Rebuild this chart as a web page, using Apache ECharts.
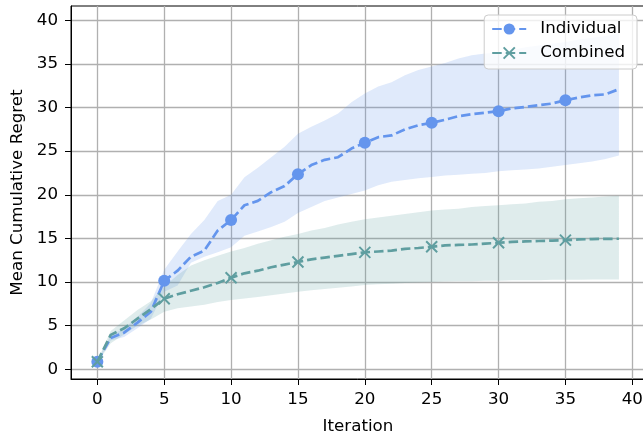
<!DOCTYPE html>
<html>
<head>
<meta charset="utf-8">
<script src="https://cdn.jsdelivr.net/npm/echarts@6/dist/echarts.min.js"></script>
<style>
  html, body { margin: 0; padding: 0; background: #ffffff; }
  #chart { width: 643px; height: 435px; }
</style>
</head>
<body>
<div id="chart"></div>
<script>
// Iterations on the x axis
const iterations = [0, 1, 2, 3, 4, 5, 6, 7, 8, 9, 10, 11, 12, 13, 14, 15, 16, 17, 18, 19,
  20, 21, 22, 23, 24, 25, 26, 27, 28, 29, 30, 31, 32, 33, 34, 35, 36, 37, 38, 39];

// Individual: mean cumulative regret and its spread band
const individualMean = [0.87, 3.6, 4.2, 5.35, 6.6, 10.15, 11.3, 12.9, 13.6, 15.9,
  17.1, 18.8, 19.3, 20.3, 21.0, 22.36, 23.4, 24.0, 24.3, 25.3,
  25.95, 26.6, 26.8, 27.5, 27.97, 28.24, 28.6, 29.0, 29.23, 29.4,
  29.58, 29.9, 30.07, 30.26, 30.45, 30.84, 31.15, 31.4, 31.5, 32.1];
const individualUpper = [1.0, 3.9, 4.7, 6.0, 7.6, 11.4, 13.5, 15.5, 17.1, 19.3,
  20.0, 22.0, 23.1, 24.3, 25.5, 27.0, 27.8, 28.5, 29.3, 30.6,
  31.6, 32.4, 32.9, 33.7, 34.3, 34.7, 35.1, 35.6, 36.0, 36.2,
  36.3, 36.6, 36.9, 37.1, 37.3, 37.5, 37.8, 38.0, 38.2, 38.5];
const individualLower = [0.75, 3.3, 3.7, 4.7, 5.8, 8.9, 9.6, 12.2, 12.9, 13.4,
  14.0, 15.3, 15.8, 16.3, 16.9, 17.9, 18.6, 19.3, 19.7, 20.1,
  20.5, 21.1, 21.5, 21.7, 21.9, 22.05, 22.2, 22.3, 22.4, 22.5,
  22.7, 22.8, 22.9, 23.0, 23.2, 23.4, 23.6, 23.8, 24.1, 24.5];

// Combined: mean cumulative regret and its spread band
const combinedMean = [0.87, 3.95, 4.7, 5.8, 6.9, 8.08, 8.6, 9.0, 9.4, 9.9,
  10.5, 11.0, 11.3, 11.7, 12.0, 12.3, 12.6, 12.8, 13.0, 13.2,
  13.4, 13.5, 13.6, 13.8, 13.9, 14.04, 14.2, 14.25, 14.3, 14.4,
  14.5, 14.6, 14.65, 14.7, 14.75, 14.8, 14.88, 14.92, 14.95, 14.96];
const combinedUpper = [1.0, 4.4, 5.6, 6.8, 7.8, 9.5, 10.8, 11.9, 12.5, 13.0,
  13.5, 13.9, 14.4, 14.8, 15.2, 15.5, 15.9, 16.2, 16.6, 16.9,
  17.2, 17.4, 17.6, 17.8, 18.0, 18.2, 18.3, 18.4, 18.6, 18.7,
  18.8, 18.9, 19.0, 19.2, 19.3, 19.5, 19.6, 19.7, 19.8, 19.9];
const combinedLower = [0.75, 3.0, 4.0, 5.0, 5.7, 6.6, 7.0, 7.2, 7.4, 7.7,
  7.95, 8.1, 8.3, 8.5, 8.7, 8.9, 9.05, 9.2, 9.35, 9.5,
  9.65, 9.75, 9.8, 9.9, 9.95, 10.0, 10.05, 10.1, 10.1, 10.15,
  10.15, 10.2, 10.2, 10.2, 10.25, 10.25, 10.25, 10.3, 10.3, 10.3];

// Tick labels
const xTicks = [0, 5, 10, 15, 20, 25, 30, 35, 40];
const yTicks = [0, 5, 10, 15, 20, 25, 30, 35, 40];

const FONT = 'DejaVu Sans';
const BLUE = '#6495ED';
const TEAL = '#5F9EA0';
const MARK_EVERY = 5;

const markedPairs = ys => iterations.map((x, i) =>
  i % MARK_EVERY === 0 ? { value: [x, ys[i]] } : { value: [x, ys[i]], symbol: 'none' });

// Shaded spread band: one closed polygon, upper edge forward then lower edge back
function bandSeries(lower, upper, color) {
  return {
    type: 'custom', silent: true, z: 1,
    data: iterations.map((x, i) => [x, lower[i], upper[i]]),
    encode: { x: 0, y: [1, 2] },
    renderItem: (params, api) => {
      if (params.dataIndex !== 0) return null;
      const pts = [];
      iterations.forEach((x, i) => pts.push(api.coord([x, upper[i]])));
      for (let i = iterations.length - 1; i >= 0; i--) pts.push(api.coord([iterations[i], lower[i]]));
      return {
        type: 'polygon',
        shape: { points: pts },
        style: { fill: color, opacity: 0.2, stroke: null }
      };
    }
  };
}

const axisText = { fontFamily: FONT, fontSize: 16.7, color: '#000000' };

const chart = echarts.init(document.getElementById('chart'), null, { renderer: 'canvas' });
chart.setOption({
  animation: false,
  backgroundColor: '#ffffff',
  grid: {
    left: 71, top: 6, width: 574, height: 373,
    show: true, borderColor: '#000000', borderWidth: 1,
    containLabel: false, outerBoundsMode: 'none'
  },
  legend: {
    data: ['Individual', 'Combined'],
    orient: 'vertical', right: 6, top: 15,
    itemWidth: 34, itemHeight: 14, itemGap: 4,
    padding: [4, 12, 6, 7],
    backgroundColor: 'rgba(255,255,255,0.8)',
    borderColor: '#cccccc', borderWidth: 1, borderRadius: 4,
    textStyle: { fontFamily: FONT, fontSize: 16.7, color: '#000000', lineHeight: 20, padding: [0, 0, 0, 9] }
  },
  xAxis: {
    type: 'value', min: -1.97, max: 40.95, splitNumber: 8,
    name: 'Iteration', nameLocation: 'middle', nameGap: 39,
    nameTextStyle: axisText,
    axisLine: { show: true, onZero: false, lineStyle: { color: '#000000', width: 1 } },
    axisTick: { show: true, length: 6, customValues: xTicks, lineStyle: { color: '#000000', width: 1 } },
    axisLabel: Object.assign({ customValues: xTicks, margin: 12 }, axisText),
    splitLine: { show: true, lineStyle: { color: '#b0b0b0', width: 1.3 } }
  },
  yAxis: {
    type: 'value', min: -1.11, max: 41.63, splitNumber: 8,
    name: 'Mean Cumulative Regret', nameLocation: 'middle', nameGap: 41,
    nameTextStyle: axisText,
    axisLine: { show: true, onZero: false, lineStyle: { color: '#000000', width: 1 } },
    axisTick: { show: true, length: 6, customValues: yTicks, lineStyle: { color: '#000000', width: 1 } },
    axisLabel: Object.assign({ customValues: yTicks, margin: 13 }, axisText),
    splitLine: { show: true, lineStyle: { color: '#b0b0b0', width: 1.3 } }
  },
  series: [
    bandSeries(individualLower, individualUpper, BLUE),
    bandSeries(combinedLower, combinedUpper, TEAL),
    {
      name: 'Individual', type: 'line', data: markedPairs(individualMean),
      symbol: 'circle', symbolSize: 12, showSymbol: true, showAllSymbol: true,
      lineStyle: { color: BLUE, width: 2.7, type: [9.5, 4] },
      itemStyle: { color: BLUE, borderWidth: 0 }, z: 3
    },
    {
      name: 'Combined', type: 'line', data: markedPairs(combinedMean),
      symbol: 'path://M0,0L10,10M0,10L10,0', symbolSize: 11, showSymbol: true, showAllSymbol: true,
      lineStyle: { color: TEAL, width: 2.7, type: [9.5, 4] },
      itemStyle: { color: TEAL, borderColor: TEAL, borderWidth: 2 }, z: 4
    }
  ]
});
</script>
</body>
</html>
